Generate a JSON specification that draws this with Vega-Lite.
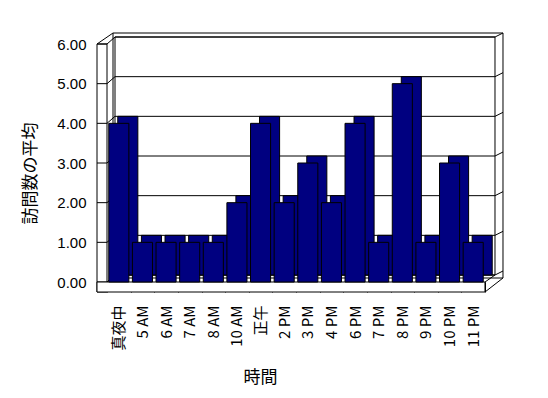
{
  "$schema": "https://vega.github.io/schema/vega-lite/v6.json",
  "width": 378,
  "height": 238,
  "autosize": {"type": "none"},
  "padding": {"left": 107, "top": 44, "right": 63, "bottom": 116},
  "background": "white",
  "config": {
    "view": {"stroke": null},
    "font": "Liberation Sans",
    "axisX": {
      "orient": "bottom", "zindex": 1,
      "domain": true, "domainColor": "black",
      "ticks": true, "tickBand": "extent", "tickSize": 10, "tickColor": "black",
      "labelAngle": 270, "labelAlign": "right", "labelBaseline": "middle",
      "labelPadding": 13, "labelFont": "Noto Sans CJK JP", "labelFontSize": 15, "labelColor": "black",
      "titleFont": "Noto Sans CJK JP", "titleFontSize": 17, "titleFontWeight": "normal", "titleColor": "black", "titlePadding": 19, "titleX": 153
    },
    "axisY": {
      "orient": "left", "offset": 10, "zindex": 1,
      "values": [0, 1, 2, 3, 4, 5, 6], "format": ".2f",
      "domain": false, "ticks": false, "grid": false,
      "labelPadding": 11, "labelFont": "Liberation Sans", "labelFontSize": 15, "labelColor": "black",
      "titleFont": "Noto Sans CJK JP", "titleFontSize": 17, "titleFontWeight": "normal", "titleColor": "black", "titlePadding": 17, "titleY": 129
    }
  },
  "datasets": {
    "bars": [
      {"時間": "真夜中", "平均": 4},
      {"時間": "5 AM", "平均": 1},
      {"時間": "6 AM", "平均": 1},
      {"時間": "7 AM", "平均": 1},
      {"時間": "8 AM", "平均": 1},
      {"時間": "10 AM", "平均": 2},
      {"時間": "正午", "平均": 4},
      {"時間": "2 PM", "平均": 2},
      {"時間": "3 PM", "平均": 3},
      {"時間": "4 PM", "平均": 2},
      {"時間": "6 PM", "平均": 4},
      {"時間": "7 PM", "平均": 1},
      {"時間": "8 PM", "平均": 5},
      {"時間": "9 PM", "平均": 1},
      {"時間": "10 PM", "平均": 3},
      {"時間": "11 PM", "平均": 1}
    ],
    "grid": [{"v": 0}, {"v": 1}, {"v": 2}, {"v": 3}, {"v": 4}, {"v": 5}, {"v": 6}],
    "span": [{"lo": 0, "hi": 6}]
  },
  "layer": [
    {
      "data": {"name": "span"},
      "mark": {"type": "rect", "fill": "white", "stroke": "black", "strokeWidth": 1, "xOffset": 6, "x2Offset": 29.8, "yOffset": -11, "y2Offset": -4},
      "encoding": {
        "x": {"datum": "真夜中", "bandPosition": 0, "title": "時間"},
        "x2": {"datum": "11 PM"},
        "y": {"field": "hi", "type": "quantitative", "title": "訪問数の平均", "scale": {"domain": [0, 6], "nice": false}},
        "y2": {"field": "lo"}
      }
    },
    {
      "data": {"name": "span"},
      "mark": {"type": "rect", "fill": "white", "stroke": "black", "strokeWidth": 1, "xOffset": 8, "x2Offset": 21.8, "yOffset": -7, "y2Offset": -7},
      "encoding": {
        "x": {"datum": "真夜中", "bandPosition": 0, "title": "時間"},
        "x2": {"datum": "11 PM"},
        "y": {"field": "hi", "type": "quantitative", "title": "訪問数の平均"},
        "y2": {"field": "lo"}
      }
    },
    {
      "data": {"name": "grid"},
      "mark": {"type": "rule", "color": "black", "strokeWidth": 1, "xOffset": 8, "x2Offset": 21.8, "yOffset": -7, "y2Offset": -7},
      "encoding": {
        "x": {"datum": "真夜中", "bandPosition": 0, "title": "時間"},
        "x2": {"datum": "11 PM"},
        "y": {"field": "v", "type": "quantitative", "title": "訪問数の平均"},
        "y2": {"field": "v"}
      }
    },
    {
      "data": {"name": "grid"},
      "mark": {"type": "rule", "color": "black", "strokeWidth": 1, "x2Offset": -3.8, "y2Offset": -7},
      "encoding": {
        "x": {"datum": "真夜中", "bandPosition": 0, "title": "時間"},
        "x2": {"datum": "真夜中"},
        "y": {"field": "v", "type": "quantitative", "title": "訪問数の平均"},
        "y2": {"field": "v"}
      }
    },
    {
      "data": {"name": "grid"},
      "mark": {"type": "rule", "color": "black", "strokeWidth": 1, "xOffset": 10, "x2Offset": 29.8, "yOffset": -7, "y2Offset": -11},
      "encoding": {
        "x": {"datum": "11 PM", "bandPosition": 1, "title": "時間"},
        "x2": {"datum": "11 PM"},
        "y": {"field": "v", "type": "quantitative", "title": "訪問数の平均"},
        "y2": {"field": "v"}
      }
    },
    {
      "data": {"name": "span"},
      "mark": {"type": "rule", "color": "black", "strokeWidth": 1, "xOffset": -10, "x2Offset": -5.8, "yOffset": 0, "y2Offset": -11},
      "encoding": {
        "x": {"datum": "真夜中", "bandPosition": 0, "title": "時間"},
        "x2": {"datum": "真夜中"},
        "y": {"field": "hi", "type": "quantitative", "title": "訪問数の平均"},
        "y2": {"field": "hi"}
      }
    },
    {
      "data": {"name": "span"},
      "mark": {"type": "rule", "color": "black", "strokeWidth": 1, "xOffset": 0, "x2Offset": 29.8, "yOffset": 10, "y2Offset": -4},
      "encoding": {
        "x": {"datum": "11 PM", "bandPosition": 1, "title": "時間"},
        "x2": {"datum": "11 PM"},
        "y": {"field": "lo", "type": "quantitative", "title": "訪問数の平均"},
        "y2": {"field": "lo"}
      }
    },
    {
      "data": {"name": "span"},
      "mark": {"type": "rule", "color": "black", "strokeWidth": 1, "xOffset": 0, "x2Offset": 21.8, "yOffset": 0, "y2Offset": -7},
      "encoding": {
        "x": {"datum": "11 PM", "bandPosition": 1, "title": "時間"},
        "x2": {"datum": "11 PM"},
        "y": {"field": "lo", "type": "quantitative", "title": "訪問数の平均"},
        "y2": {"field": "lo"}
      }
    },
    {
      "data": {"name": "span"},
      "mark": {"type": "rect", "fill": "white", "stroke": "black", "strokeWidth": 1, "xOffset": -10, "x2Offset": -11.8, "y2Offset": 10},
      "encoding": {
        "x": {"datum": "真夜中", "bandPosition": 0, "title": "時間"},
        "x2": {"datum": "真夜中"},
        "y": {"field": "hi", "type": "quantitative", "title": "訪問数の平均"},
        "y2": {"field": "lo"}
      }
    },
    {
      "data": {"name": "grid"},
      "mark": {"type": "rule", "color": "black", "strokeWidth": 1, "xOffset": -10, "x2Offset": -11.8},
      "encoding": {
        "x": {"datum": "真夜中", "bandPosition": 0, "title": "時間"},
        "x2": {"datum": "真夜中"},
        "y": {"field": "v", "type": "quantitative", "title": "訪問数の平均"},
        "y2": {"field": "v"}
      }
    },
    {
      "data": {"name": "span"},
      "mark": {"type": "rect", "fill": "white", "stroke": "black", "strokeWidth": 1, "xOffset": -10, "x2Offset": 11.8, "y2Offset": 10},
      "encoding": {
        "x": {"datum": "真夜中", "bandPosition": 0, "title": "時間"},
        "x2": {"datum": "11 PM"},
        "y": {"field": "lo", "type": "quantitative", "title": "訪問数の平均"},
        "y2": {"field": "lo"}
      }
    },
    {
      "data": {"name": "bars"},
      "mark": {"type": "bar", "fill": "#000080", "stroke": "black", "strokeWidth": 1, "width": {"band": 0.85}, "xOffset": 9, "yOffset": -7, "y2Offset": -7},
      "encoding": {
        "x": {"field": "時間", "type": "nominal", "sort": null, "title": "時間"},
        "y": {"field": "平均", "type": "quantitative", "title": "訪問数の平均"}
      }
    },
    {
      "data": {"name": "bars"},
      "mark": {"type": "bar", "fill": "#000080", "stroke": "black", "strokeWidth": 1, "width": {"band": 0.85}},
      "encoding": {
        "x": {
          "field": "時間", "type": "nominal", "sort": null, "title": "時間",
          "scale": {"type": "band", "paddingInner": 0, "paddingOuter": 0,
            "domain": ["真夜中", "5 AM", "6 AM", "7 AM", "8 AM", "10 AM", "正午", "2 PM", "3 PM", "4 PM", "6 PM", "7 PM", "8 PM", "9 PM", "10 PM", "11 PM"]}
        },
        "y": {
          "field": "平均", "type": "quantitative", "title": "訪問数の平均",
          "scale": {"domain": [0, 6], "nice": false}
        }
      }
    }
  ]
}
